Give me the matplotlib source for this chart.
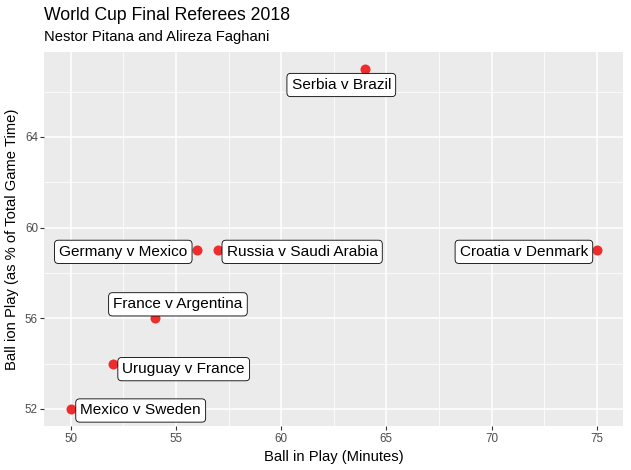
import matplotlib
matplotlib.use("Agg")
import matplotlib.pyplot as plt
from matplotlib.ticker import MultipleLocator

plt.rcParams['font.family'] = ['Liberation Sans', 'DejaVu Sans']

matches = ["Serbia v Brazil", "Croatia v Denmark", "Germany v Mexico",
           "Russia v Saudi Arabia", "France v Argentina", "Uruguay v France",
           "Mexico v Sweden"]
minutes = [64, 75, 56, 57, 54, 52, 50]
pct = [67, 59, 59, 59, 56, 54, 52]

# label placement (pixel offsets from the point, alignment)
label_style = [(-24, -14.5, 'center'), (-8.6, 0, 'right'), (-9.6, 0, 'right'),
               (8.6, 0, 'left'), (23, 15.5, 'center'), (9.6, -4, 'left'),
               (9.6, 0, 'left')]

DPI = 100
fig = plt.figure(figsize=(6.31, 4.70), dpi=DPI)
ax = fig.add_axes([44.5/631, 1-426/470, (623-44.5)/631, (426-52)/470])
ax.set_facecolor('#EBEBEB')
for s in ax.spines.values():
    s.set_visible(False)

ax.set_xlim(48.75, 76.25)
ax.set_ylim(51.25, 67.75)
ax.xaxis.set_major_locator(MultipleLocator(5))
ax.xaxis.set_minor_locator(MultipleLocator(2.5))
ax.set_yticks([52, 56, 60, 64])
ax.set_yticks([54, 58, 62, 66], minor=True)
ax.grid(which='major', color='white', linewidth=1.1)
ax.grid(which='minor', color='white', linewidth=0.55)
ax.set_axisbelow(True)
ax.tick_params(which='major', length=2.75, width=0.8, color='#333333',
               labelsize=8.4, labelcolor='#4D4D4D', pad=2)
ax.tick_params(which='minor', length=0)

ax.scatter(minutes, pct, s=52, color='#EE2C2C', zorder=3, linewidths=0)

px2pt = 72 / DPI
for name, x, y, (dx, dy, ha) in zip(matches, minutes, pct, label_style):
    ax.annotate(name, xy=(x, y), xytext=(dx*px2pt, dy*px2pt),
                textcoords='offset points', ha=ha, va='center_baseline',
                fontsize=11.1, color='black', zorder=4,
                bbox=dict(boxstyle='round,pad=0.3,rounding_size=0.25',
                          fc='white', ec='black', lw=0.6))

ax.set_xlabel('Ball in Play (Minutes)', fontsize=10.6, labelpad=4)
ax.set_ylabel('Ball ion Play (as % of Total Game Time)', fontsize=10.6, labelpad=4)

fig.text(44.5/631, 1-15/470, 'World Cup Final Referees 2018', fontsize=12.7,
         ha='left', va='center')
fig.text(44.5/631, 1-37/470, 'Nestor Pitana and Alireza Faghani', fontsize=10.6,
         ha='left', va='center')

fig.savefig('out.png', dpi=DPI)
